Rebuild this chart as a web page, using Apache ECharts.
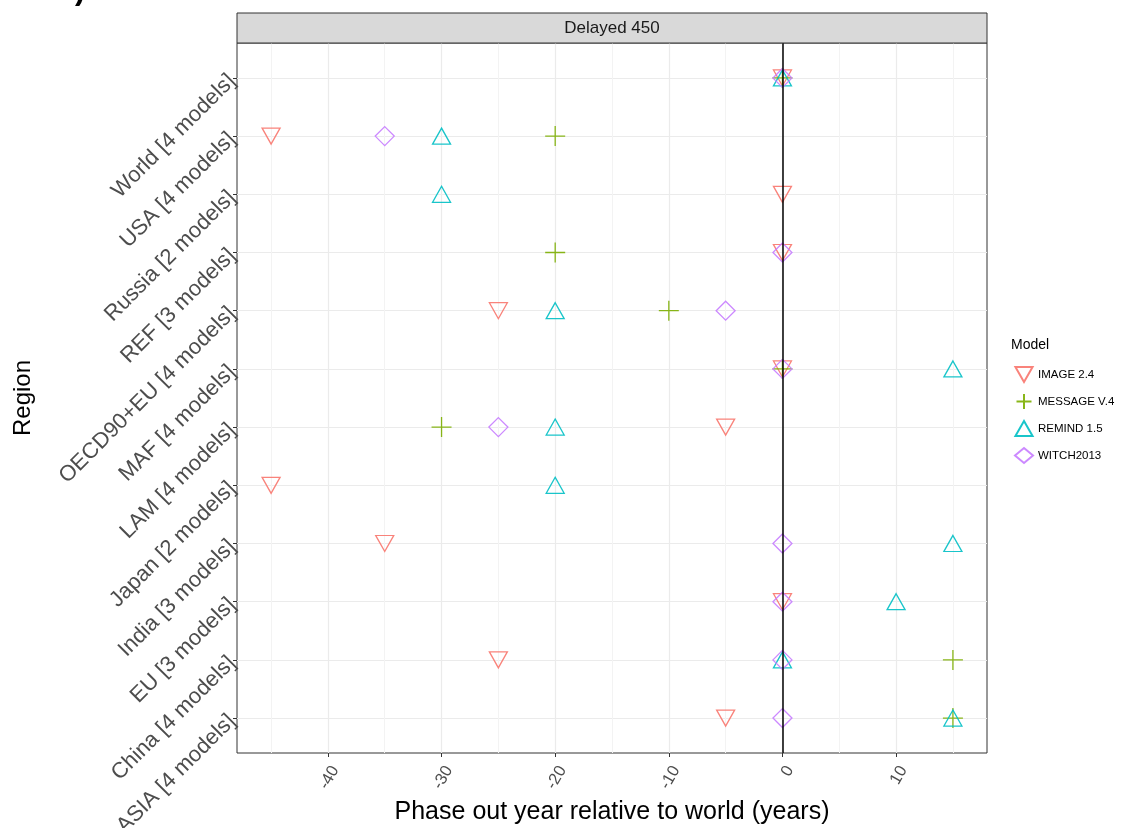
<!DOCTYPE html>
<html><head><meta charset="utf-8">
<script src="https://cdn.jsdelivr.net/npm/echarts@6/dist/echarts.min.js"></script>
<style>html,body{margin:0;padding:0;background:#fff}#c{width:1124px;height:828px}</style>
</head><body><div id="c"></div>
<script>
const regions = ['World [4 models]','USA [4 models]','Russia [2 models]','REF [3 models]','OECD90+EU [4 models]','MAF [4 models]','LAM [4 models]','Japan [2 models]','India [3 models]','EU [3 models]','China [4 models]','ASIA [4 models]'];
const models = ['IMAGE 2.4','MESSAGE V.4','REMIND 1.5','WITCH2013'];
const imageVals   = [0,-45,0,0,-25,0,-5,-45,-35,0,-25,-5];
const messageVals = [0,-20,null,-20,-10,0,-30,null,null,null,15,15];
const remindVals  = [0,-30,-30,null,-20,15,-20,-20,15,10,0,15];
const witchVals   = [0,-35,null,0,-5,0,-25,null,0,0,0,0];
const majorTicks = [-40,-30,-20,-10,0,10];
const minorTicks = [-45,-35,-25,-15,-5,5,15];
const panelTitle = 'Delayed 450';

const colors = ['#F8766D','#7CAE00','#00BFC4','#C77CFF'];
const symbols = ['path://M0,0L2,0L1,1.75Z','path://M1,0L1,2M0,1L2,1','path://M1,0L2,1.75L0,1.75Z','diamond'];
const sizes = [[18,16],[20,20],[18,16],[19,19]];
const vals = [imageVals, messageVals, remindVals, witchVals];
const F = 'Liberation Sans, Arial, sans-serif';

const series = models.map((m, k) => ({
  name: m, type: 'scatter',
  symbol: symbols[k], symbolSize: sizes[k],
  itemStyle: {color: 'rgba(0,0,0,0)', borderColor: colors[k], borderWidth: 1.3, opacity: 0.9},
  emphasis: {disabled: true},
  data: vals[k].map((v, i) => v === null ? null : [v, i]).filter(d => d),
  z: 3
}));
series.push({
  type: 'scatter', data: [], silent: true,
  markLine: {silent: true, symbol: 'none', label: {show: false},
    lineStyle: {color: '#000', width: 1.5, type: 'solid'},
    data: [{xAxis: 0}]}
});

const chart = echarts.init(document.getElementById('c'), null, {renderer: 'canvas'});
chart.setOption({
  animation: false,
  backgroundColor: '#fff',
  textStyle: {fontFamily: F},
  grid: {left: 237, right: 137, top: 43, bottom: 75, show: true, borderColor: '#333', borderWidth: 1, backgroundColor: '#fff',
    containLabel: false, outerBoundsMode: 'none'},
  xAxis: [{
    type: 'value', min: -48, max: 18, gridIndex: 0,
    name: 'Phase out year relative to world (years)', nameLocation: 'middle', nameGap: 47,
    nameTextStyle: {fontSize: 25, color: '#000', fontFamily: F},
    axisLine: {show: false, onZero: false},
    axisTick: {show: true, length: 4, lineStyle: {color: '#333'}, customValues: majorTicks},
    axisLabel: {customValues: majorTicks, rotate: 60, fontSize: 16.5, color: '#4D4D4D', margin: 10, verticalAlign: 'top', fontFamily: F},
    splitLine: {show: true, lineStyle: {color: '#EBEBEB', width: 1.2}}
  }, {
    type: 'value', min: -48, max: 18, gridIndex: 0, position: 'bottom',
    axisLine: {show: false, onZero: false},
    axisTick: {show: false, customValues: minorTicks},
    axisLabel: {show: false, customValues: minorTicks},
    splitLine: {show: true, lineStyle: {color: '#F3F3F3', width: 1}}
  }],
  yAxis: {
    type: 'value', min: -0.6, max: 11.6, inverse: true,
    name: 'Region', nameLocation: 'middle', nameGap: 202, nameRotate: 90,
    nameTextStyle: {fontSize: 24, color: '#000', fontFamily: F},
    axisLine: {show: false, onZero: false},
    axisTick: {show: true, length: 4, lineStyle: {color: '#333'}, customValues: regions.map((r, i) => i)},
    axisLabel: {customValues: regions.map((r, i) => i), rotate: 45, fontSize: 22, color: '#4D4D4D', margin: 5, fontFamily: F,
      formatter: v => regions[Math.round(v)]},
    splitLine: {show: true, lineStyle: {color: '#EBEBEB', width: 1.2}}
  },
  legend: {
    orient: 'vertical', left: 1009, top: 361, itemGap: 10, itemWidth: 18, itemHeight: 15,
    data: models, textStyle: {fontSize: 11.5, color: '#000', fontFamily: F}, selectedMode: false
  },
  graphic: [
    {type: 'rect', shape: {x: 237, y: 13, width: 750, height: 30}, style: {fill: '#D9D9D9', stroke: '#333', lineWidth: 1}, z: 10},
    {type: 'text', x: 612, y: 28, style: {text: panelTitle, fill: '#1A1A1A', font: '17px ' + F, align: 'center', verticalAlign: 'middle'}, z: 11},
    {type: 'text', x: 1011, y: 345, style: {text: 'Model', fill: '#000', font: '14px ' + F, align: 'left', verticalAlign: 'middle'}, z: 11},
    {type: 'text', x: 6, y: 6, style: {text: '2013).', fill: '#000', font: 'bold 31px ' + F, align: 'left', verticalAlign: 'bottom'}, z: 11}
  ],
  series: series
});
</script></body></html>
